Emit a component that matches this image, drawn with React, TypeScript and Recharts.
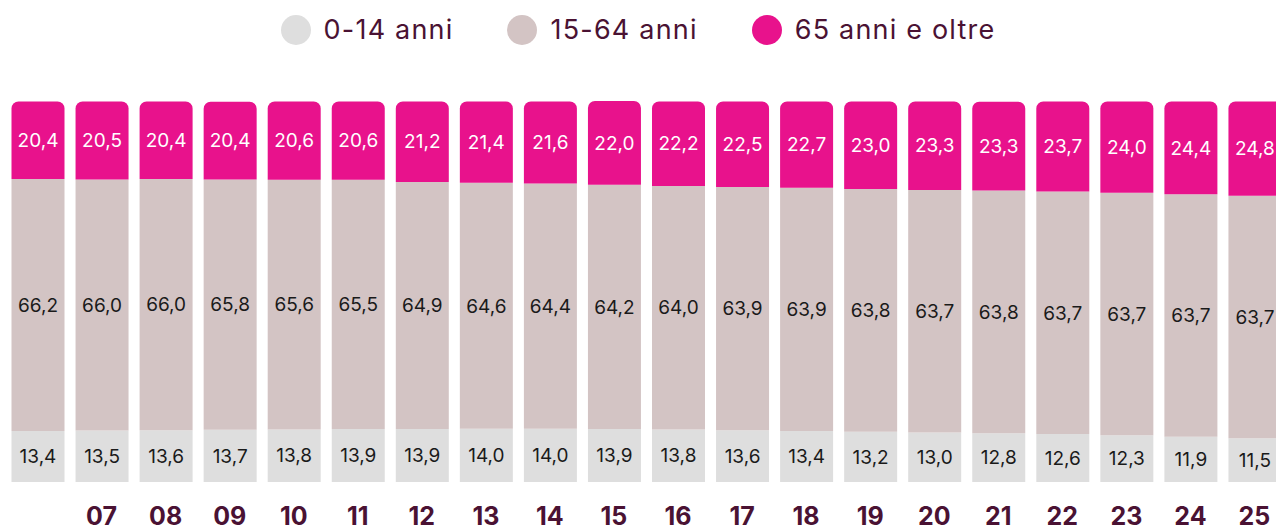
import { BarChart, Bar, XAxis, YAxis, LabelList } from 'recharts';

const years = ['06', '07', '08', '09', '10', '11', '12', '13', '14', '15', '16', '17', '18', '19', '20', '21', '22', '23', '24', '25'];
const young = [13.4, 13.5, 13.6, 13.7, 13.8, 13.9, 13.9, 14.0, 14.0, 13.9, 13.8, 13.6, 13.4, 13.2, 13.0, 12.8, 12.6, 12.3, 11.9, 11.5];
const working = [66.2, 66.0, 66.0, 65.8, 65.6, 65.5, 64.9, 64.6, 64.4, 64.2, 64.0, 63.9, 63.9, 63.8, 63.7, 63.8, 63.7, 63.7, 63.7, 63.7];
const elderly = [20.4, 20.5, 20.4, 20.4, 20.6, 20.6, 21.2, 21.4, 21.6, 22.0, 22.2, 22.5, 22.7, 23.0, 23.3, 23.3, 23.7, 24.0, 24.4, 24.8];

const seriesNames = ['0-14 anni', '15-64 anni', '65 anni e oltre'];
const colors = ['#DEDEDE', '#D3C4C4', '#E8128C'];
const font = 'Inter, "Noto Sans", sans-serif';
const textColor = '#4A1233';

const data = years.map((y, i) => ({
  year: y,
  young: young[i],
  working: working[i],
  elderly: elderly[i],
}));

const fmt = (v: unknown) => Number(v).toFixed(1).replace('.', ',');

// first year label is not shown in the original
function YearTick(props: any) {
  const { x, y, payload, index } = props;
  if (index === 0) return null;
  return (
    <text x={x} y={y + 26} textAnchor="middle" dominantBaseline="central" fill={textColor} fontSize={25} fontWeight={700} fontFamily={font}>
      {payload.value}
    </text>
  );
}

export default function App() {
  return (
    <div style={{ position: 'fixed', left: 0, top: 0, width: 1276, height: 531, overflow: 'hidden', background: '#fff', fontFamily: font }}>
      <div style={{ position: 'absolute', left: 0, top: 14, width: 1276, display: 'flex', justifyContent: 'center', gap: 54 }}>
        {seriesNames.map((n, i) => (
          <div key={n} style={{ display: 'flex', alignItems: 'center', gap: 13 }}>
            <span style={{ width: 30, height: 30, borderRadius: 15, background: colors[i], display: 'inline-block' }} />
            <span style={{ fontSize: 27, letterSpacing: 1.2, color: textColor, lineHeight: '32px' }}>{n}</span>
          </div>
        ))}
      </div>
      <BarChart width={1300} height={531} data={data} margin={{ top: 101, right: 13.5, left: 5.5, bottom: 0 }} barSize={53}>
        <XAxis dataKey="year" height={49} axisLine={false} tickLine={false} tick={<YearTick />} interval={0} />
        <YAxis hide domain={[0, 100]} />
        <Bar dataKey="young" stackId="a" fill={colors[0]} isAnimationActive={false}>
          <LabelList dataKey="young" position="center" formatter={fmt} fill="#1a1a1a" fontSize={19} fontFamily={font} />
        </Bar>
        <Bar dataKey="working" stackId="a" fill={colors[1]} isAnimationActive={false}>
          <LabelList dataKey="working" position="center" formatter={fmt} fill="#1a1a1a" fontSize={19} fontFamily={font} />
        </Bar>
        <Bar dataKey="elderly" stackId="a" fill={colors[2]} radius={[7, 7, 0, 0]} isAnimationActive={false}>
          <LabelList dataKey="elderly" position="center" formatter={fmt} fill="#ffffff" fontSize={19} fontFamily={font} />
        </Bar>
      </BarChart>
    </div>
  );
}
